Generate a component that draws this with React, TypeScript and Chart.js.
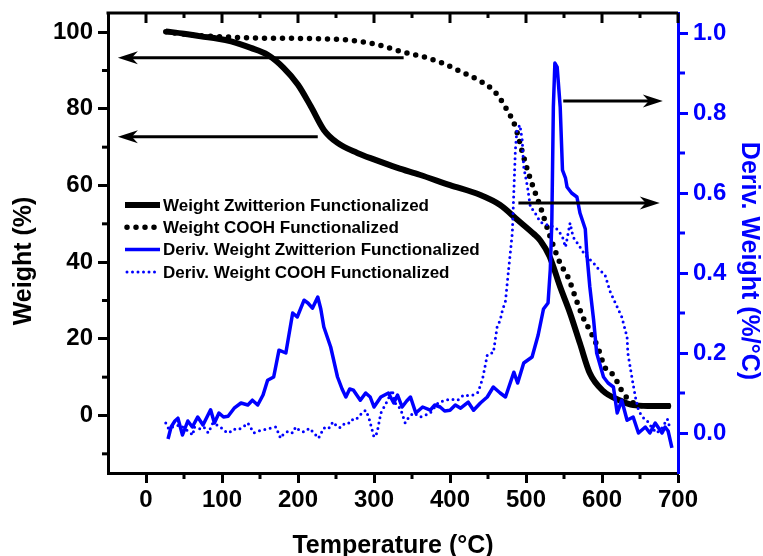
import React, { useEffect, useRef } from 'react';
import { Chart, registerables } from 'chart.js';

Chart.register(...registerables);

const FONT = '"Liberation Sans", Arial, Helvetica, sans-serif';
const BLUE = '#0000ff';
const BLACK = '#000000';

// ---------- data ----------
const zwTemp = [26, 50, 72, 95, 112, 138, 160, 181, 200, 217, 234, 252, 278, 300, 331, 360, 400, 440, 466, 489, 510, 519, 531, 545, 558, 571, 584, 601, 624, 641, 660, 690];
const zwWeight = [100.2, 99.6, 98.9, 98.3, 97.6, 95.9, 94.1, 90.7, 86.3, 80.6, 74.5, 71.1, 68.5, 66.8, 64.6, 62.8, 60.1, 57.5, 54.9, 51.0, 47.4, 45.6, 41.5, 33.5, 26.7, 18.8, 11.0, 6.5, 3.9, 2.7, 2.5, 2.5];

const coTemp = [26, 60, 100, 138, 180, 226, 269, 305, 335, 370, 392, 414, 442, 460, 475, 486, 495, 502, 510, 519, 532, 545, 556, 565, 575, 584, 595, 604, 615, 628, 637, 650, 670, 690];
const coWeight = [100.1, 99.3, 98.8, 98.5, 98.4, 98.3, 97.9, 96.7, 95.0, 93.3, 91.8, 89.7, 87.0, 84.2, 79.7, 75.3, 68.8, 64.0, 59.3, 54.4, 46.5, 39.7, 35.8, 30.8, 25.6, 22.2, 17.5, 12.5, 10.5, 5.8, 3.9, 2.6, 2.5, 2.5];

const dzTemp = [29, 33, 38, 42, 48, 55, 61, 68, 75, 85, 90, 96, 102, 108, 116, 125, 134, 140, 147, 154, 160, 168, 175, 184, 193, 199, 208, 213, 219, 226, 230, 234, 243, 252, 258, 263, 268, 273, 282, 289, 295, 300, 309, 319, 326, 331, 337, 343, 348, 355, 364, 374, 380, 387, 393, 400, 407, 414, 424, 431, 440, 449, 457, 466, 473, 484, 489, 497, 508, 516, 523, 529, 532, 534, 536, 538, 541, 545, 548, 552, 554, 560, 567, 571, 578, 580, 584, 589, 593, 602, 608, 615, 620, 626, 633, 641, 648, 657, 663, 670, 679, 683, 687, 692];
const dzDeriv = [-0.015, 0.015, 0.03, 0.037, -0.005, 0.03, 0.015, 0.04, 0.02, 0.058, 0.025, 0.05, 0.04, 0.042, 0.062, 0.075, 0.07, 0.082, 0.07, 0.095, 0.132, 0.14, 0.207, 0.2, 0.3, 0.29, 0.332, 0.325, 0.312, 0.34, 0.31, 0.265, 0.215, 0.14, 0.11, 0.09, 0.11, 0.107, 0.082, 0.1, 0.09, 0.065, 0.09, 0.1, 0.075, 0.095, 0.065, 0.08, 0.09, 0.05, 0.065, 0.057, 0.07, 0.065, 0.055, 0.057, 0.07, 0.062, 0.077, 0.057, 0.075, 0.09, 0.115, 0.1, 0.09, 0.152, 0.125, 0.175, 0.19, 0.245, 0.31, 0.325, 0.41, 0.53, 0.815, 0.925, 0.915, 0.815, 0.657, 0.637, 0.615, 0.6, 0.59, 0.55, 0.51, 0.45, 0.365, 0.282, 0.2, 0.14, 0.125, 0.115, 0.05, 0.082, 0.032, 0.04, 0.0, 0.015, 0.0, 0.025, 0.0, 0.015, 0.005, -0.037];

const dcTemp = [26, 30, 35, 45, 55, 62, 63, 70, 76, 82, 88, 98, 103, 109, 115, 121, 128, 134, 142, 148, 155, 163, 171, 177, 180, 187, 193, 197, 203, 208, 215, 221, 227, 234, 240, 246, 252, 256, 262, 269, 273, 278, 285, 289, 293, 300, 304, 309, 318, 324, 328, 335, 341, 346, 352, 361, 368, 374, 380, 385, 392, 400, 410, 418, 425, 431, 437, 443, 447, 449, 453, 457, 462, 466, 469, 473, 477, 482, 486, 488, 492, 495, 497, 502, 506, 510, 515, 519, 528, 538, 543, 548, 552, 558, 562, 565, 571, 576, 582, 589, 593, 604, 611, 620, 626, 633, 634, 640, 644, 648, 653, 659, 665, 672, 678, 686, 690];
const dcDeriv = [0.025, 0.01, 0.015, 0.02, 0.005, -0.005, 0.015, 0.01, 0.015, 0.0, 0.025, 0.015, 0.005, 0.0, 0.01, 0.008, 0.015, 0.025, 0.0, 0.005, 0.008, 0.012, 0.015, -0.013, -0.005, 0.005, 0.0, 0.015, 0.005, 0.003, 0.012, 0.0, -0.013, 0.013, 0.01, 0.028, 0.015, 0.013, 0.025, 0.025, 0.037, 0.037, 0.052, 0.057, 0.04, -0.01, 0.0, 0.05, 0.082, 0.107, 0.075, 0.06, 0.025, 0.04, 0.05, 0.04, 0.045, 0.05, 0.065, 0.077, 0.08, 0.085, 0.082, 0.095, 0.093, 0.095, 0.102, 0.137, 0.175, 0.195, 0.2, 0.2, 0.265, 0.282, 0.307, 0.33, 0.407, 0.5, 0.707, 0.757, 0.77, 0.732, 0.665, 0.615, 0.562, 0.557, 0.54, 0.527, 0.52, 0.515, 0.505, 0.49, 0.465, 0.525, 0.49, 0.482, 0.465, 0.45, 0.437, 0.425, 0.415, 0.395, 0.352, 0.315, 0.29, 0.24, 0.2, 0.132, 0.09, 0.057, 0.04, 0.032, 0.015, 0.0, 0.01, 0.035, 0.008];

// tick values
const xTicks = [0, 100, 200, 300, 400, 500, 600, 700];
const yTicks = [0, 20, 40, 60, 80, 100];
const y1Ticks = [0, 0.2, 0.4, 0.6, 0.8, 1.0];

const seriesNames = [
  'Weight Zwitterion Functionalized',
  'Weight COOH Functionalized',
  'Deriv. Weight Zwitterion Functionalized',
  'Deriv. Weight COOH Functionalized',
];
const xTitle = 'Temperature (°C)';
const yTitle = 'Weight (%)';
const y1Title = 'Deriv. Weight (%/°C)';

// arrows: start temp, end (tip) temp, level, axis
const arrowStarts = [339, 226, 549, 490];
const arrowEnds = [-37, -37, 680, 676];
const arrowLevels = [93.3, 72.7, 0.83, 0.575];
const arrowAxes = ['y', 'y', 'y1', 'y1'];

const toXY = (xs: number[], ys: number[]) => xs.map((x, i) => ({ x, y: ys[i] }));

const seriesStyles = [
  { color: BLACK, width: 6, dash: [] as number[] },
  { color: BLACK, width: 5.5, dash: [0, 9] },
  { color: BLUE, width: 3.5, dash: [] as number[] },
  { color: BLUE, width: 3, dash: [0, 5.5] },
];

function drawArrow(ctx: CanvasRenderingContext2D, x1: number, x2: number, y: number) {
  const dir = x2 > x1 ? 1 : -1;
  const headLen = 20;
  ctx.save();
  ctx.strokeStyle = BLACK;
  ctx.fillStyle = BLACK;
  ctx.lineWidth = 3;
  ctx.beginPath();
  ctx.moveTo(x1, y);
  ctx.lineTo(x2 - dir * 12, y);
  ctx.stroke();
  ctx.beginPath();
  ctx.moveTo(x2, y);
  ctx.lineTo(x2 - dir * headLen, y - 6.5);
  ctx.lineTo(x2 - dir * 14, y);
  ctx.lineTo(x2 - dir * headLen, y + 6.5);
  ctx.closePath();
  ctx.fill();
  ctx.restore();
}

const decorPlugin = {
  id: 'decor',
  afterDraw(chart: any) {
    const ctx: CanvasRenderingContext2D = chart.ctx;
    const { left, right, top, bottom } = chart.chartArea;
    const sx = chart.scales.x;
    const sy = chart.scales.y;
    const sy1 = chart.scales.y1;
    ctx.save();
    // top frame line
    ctx.strokeStyle = BLACK;
    ctx.lineWidth = 3;
    ctx.beginPath();
    ctx.moveTo(left - 1.5, top);
    ctx.lineTo(right, top);
    ctx.stroke();
    // x ticks: top (inward) and minor bottom
    for (let v = 0; v <= 700; v += 50) {
      const px = sx.getPixelForValue(v);
      const major = v % 100 === 0;
      ctx.beginPath();
      ctx.moveTo(px, top);
      ctx.lineTo(px, top + (major ? 10 : 5));
      if (!major) {
        ctx.moveTo(px, bottom);
        ctx.lineTo(px, bottom + 6);
      }
      ctx.stroke();
    }
    // left minor ticks
    for (let v = -10; v <= 100; v += 20) {
      const py = sy.getPixelForValue(v);
      ctx.beginPath();
      ctx.moveTo(left, py);
      ctx.lineTo(left - 6, py);
      ctx.stroke();
    }
    // right minor ticks
    ctx.strokeStyle = BLUE;
    for (let k = 1; k <= 9; k += 2) {
      const py = sy1.getPixelForValue(k / 10);
      ctx.beginPath();
      ctx.moveTo(right, py);
      ctx.lineTo(right + 7, py);
      ctx.stroke();
    }

    // arrows
    for (let i = 0; i < arrowStarts.length; i++) {
      const scale = arrowAxes[i] === 'y' ? sy : sy1;
      drawArrow(ctx, sx.getPixelForValue(arrowStarts[i]), sx.getPixelForValue(arrowEnds[i]), scale.getPixelForValue(arrowLevels[i]));
    }

    // legend
    const lx0 = left + 17;
    const lx1 = left + 52;
    const ly0 = top + 192;
    ctx.font = `bold 17px ${FONT}`;
    ctx.textBaseline = 'middle';
    ctx.textAlign = 'left';
    seriesNames.forEach((name, i) => {
      const st = seriesStyles[i];
      const y = ly0 + i * 22.3;
      ctx.save();
      ctx.strokeStyle = st.color;
      ctx.lineWidth = st.width;
      ctx.lineCap = st.dash.length ? 'round' : 'butt';
      ctx.setLineDash(st.dash);
      ctx.beginPath();
      ctx.moveTo(lx0 + (st.dash.length ? 2 : 0), y);
      ctx.lineTo(lx1, y);
      ctx.stroke();
      ctx.restore();
      ctx.fillStyle = BLACK;
      ctx.fillText(name, lx1 + 3, y + 1);
    });

    // axis titles
    ctx.font = `bold 25px ${FONT}`;
    ctx.fillStyle = BLACK;
    ctx.textAlign = 'center';
    ctx.textBaseline = 'alphabetic';
    ctx.fillText(xTitle, (left + right) / 2, 553);
    ctx.save();
    ctx.translate(24, 261);
    ctx.rotate(-Math.PI / 2);
    ctx.textBaseline = 'middle';
    ctx.fillText(yTitle, 0, 0);
    ctx.restore();
    ctx.save();
    ctx.translate(749, 261);
    ctx.rotate(Math.PI / 2);
    ctx.textBaseline = 'middle';
    ctx.fillStyle = BLUE;
    ctx.fillText(y1Title, 0, 0);
    ctx.restore();
    ctx.restore();
  },
};

export default function App() {
  const canvasRef = useRef<HTMLCanvasElement | null>(null);

  useEffect(() => {
    if (!canvasRef.current) return;
    const tickFont = { family: FONT, size: 24, weight: 'bold' as const, lineHeight: 1 };
    const zeroPad = (s: any) => {
      s.paddingTop = 0;
      s.paddingBottom = 0;
      s.paddingLeft = 0;
      s.paddingRight = 0;
    };
    const setTicks = (vals: number[]) => (s: any) => {
      s.ticks = vals.map((value) => ({ value }));
    };
    const chart = new Chart(canvasRef.current, {
      type: 'line',
      data: {
        datasets: [
          {
            label: seriesNames[0],
            data: toXY(zwTemp, zwWeight),
            yAxisID: 'y',
            borderColor: BLACK,
            borderWidth: 6,
            pointRadius: 0,
            tension: 0.4,
            cubicInterpolationMode: 'monotone',
            order: 2,
          },
          {
            label: seriesNames[1],
            data: toXY(coTemp, coWeight),
            yAxisID: 'y',
            borderColor: BLACK,
            borderWidth: 5.5,
            borderDash: [0, 9],
            borderCapStyle: 'round',
            pointRadius: 0,
            tension: 0.4,
            cubicInterpolationMode: 'monotone',
            order: 3,
          },
          {
            label: seriesNames[2],
            data: toXY(dzTemp, dzDeriv),
            yAxisID: 'y1',
            borderColor: BLUE,
            borderWidth: 3.5,
            borderJoinStyle: 'round',
            pointRadius: 0,
            tension: 0,
            order: 0,
          },
          {
            label: seriesNames[3],
            data: toXY(dcTemp, dcDeriv),
            yAxisID: 'y1',
            borderColor: BLUE,
            borderWidth: 3,
            borderDash: [0, 5.5],
            borderCapStyle: 'round',
            pointRadius: 0,
            tension: 0,
            order: 1,
          },
        ],
      },
      options: {
        responsive: false,
        animation: false,
        devicePixelRatio: 1,
        layout: { padding: { top: 13, left: 0, right: 0, bottom: 0 } },
        plugins: { legend: { display: false }, tooltip: { enabled: false } },
        scales: {
          x: {
            type: 'linear',
            min: -50,
            max: 700,
            border: { display: true, color: BLACK, width: 3 },
            grid: { drawOnChartArea: false, drawTicks: true, tickLength: 10, tickWidth: 3, tickColor: BLACK },
            ticks: { color: BLACK, font: tickFont, padding: 5, maxRotation: 0 },
            afterBuildTicks: setTicks(xTicks),
            afterFit: (s: any) => {
              s.height = 83;
              zeroPad(s);
            },
          },
          y: {
            type: 'linear',
            position: 'left',
            min: -15,
            max: 105,
            border: { display: true, color: BLACK, width: 3 },
            grid: { drawOnChartArea: false, drawTicks: true, tickLength: 10, tickWidth: 3, tickColor: BLACK },
            ticks: { color: BLACK, font: tickFont, padding: 5 },
            afterBuildTicks: setTicks(yTicks),
            afterFit: (s: any) => {
              s.width = 108;
              zeroPad(s);
            },
          },
          y1: {
            type: 'linear',
            position: 'right',
            min: -0.1,
            max: 1.05,
            border: { display: true, color: BLUE, width: 3 },
            grid: { drawOnChartArea: false, drawTicks: true, tickLength: 10, tickWidth: 3, tickColor: BLUE },
            ticks: {
              color: BLUE,
              font: tickFont,
              padding: 5,
              callback: (v: any) => Number(v).toFixed(1),
            },
            afterBuildTicks: setTicks(y1Ticks),
            afterFit: (s: any) => {
              s.width = 85;
              zeroPad(s);
            },
          },
        },
      },
      plugins: [decorPlugin],
    } as any);
    return () => chart.destroy();
  }, []);

  return (
    <div style={{ position: 'absolute', left: 0, top: 0, width: 763, height: 556, background: '#fff' }}>
      <canvas ref={canvasRef} width={763} height={556} style={{ display: 'block' }} />
    </div>
  );
}
